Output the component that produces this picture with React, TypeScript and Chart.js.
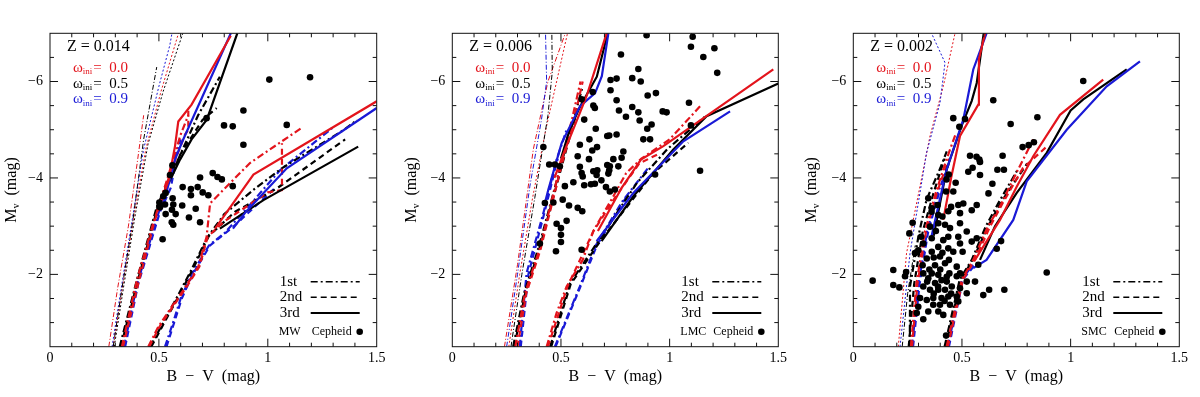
import React, { useEffect, useRef } from 'react';
import { Chart, registerables } from 'chart.js';

Chart.register(...registerables);

type Pt = [number, number];

const FONT = '"Liberation Serif", "DejaVu Serif", serif';
const X_TICKS = [0, 0.5, 1, 1.5];
const Y_TICKS = [-6, -4, -2];
const OMEGA_VALUES = ['0.0', '0.5', '0.9'];
const CROSSING_LABELS = ['1st', '2nd', '3rd'];
const Z_LABELS = ['Z = 0.014', 'Z = 0.006', 'Z = 0.002'];
const SAMPLE_LABELS = ['MW', 'LMC', 'SMC'];

// ---------------- MW (Z = 0.014) ----------------
const mwCepheids: Pt[] = [
  [1.007, -6.04], [1.194, -6.09], [0.888, -5.4], [0.719, -5.24], [0.799, -5.09], [0.839, -5.07],
  [1.087, -5.1], [0.888, -4.69], [0.689, -4.01], [0.747, -4.1], [0.769, -4.02], [0.789, -3.97],
  [0.839, -3.83], [0.609, -3.81], [0.647, -3.77], [0.678, -3.81], [0.647, -3.64], [0.701, -3.7],
  [0.727, -3.64], [0.562, -4.26], [0.551, -4.06], [0.531, -3.69], [0.502, -3.49], [0.505, -3.39],
  [0.528, -3.45], [0.563, -3.58], [0.566, -3.45], [0.531, -3.25], [0.56, -3.34], [0.577, -3.25],
  [0.607, -3.43], [0.669, -3.36], [0.638, -3.18], [0.689, -3.08], [0.559, -3.08], [0.566, -3.03],
  [0.517, -2.73], [0.52, -3.62],
];
const mwThinRedDD: Pt[] = [[0.27, -0.5], [0.31, -1.7], [0.36, -3.0], [0.4, -4.3], [0.43, -5.3]];
const mwThinBlackDD: Pt[] = [[0.29, -0.5], [0.33, -1.7], [0.38, -3.1], [0.43, -4.8], [0.49, -6.3]];
const mwThinBlueDot: Pt[] = [[0.285, -0.5], [0.33, -1.8], [0.38, -3.2], [0.43, -4.6], [0.5, -5.9], [0.55, -6.75], [0.56, -7.0]];
const mwThinRedDot: Pt[] = [[0.29, -0.5], [0.335, -1.8], [0.385, -3.2], [0.44, -4.6], [0.51, -5.8], [0.59, -7.0]];
const mwThinBlackDot: Pt[] = [[0.295, -0.5], [0.34, -1.8], [0.39, -3.2], [0.45, -4.7], [0.52, -5.8], [0.61, -7.0]];
const mwRed1L: Pt[] = [[0.33, -0.5], [0.4, -1.9], [0.47, -3.0], [0.54, -4.0], [0.6, -4.9], [0.635, -5.3]];
const mwRed2L: Pt[] = [[0.335, -0.5], [0.41, -1.9], [0.48, -3.1], [0.56, -4.2], [0.62, -4.9], [0.635, -5.0], [0.635, -5.4]];
const mwRed3L: Pt[] = [[0.5, -3.4], [0.545, -3.96], [0.574, -4.66], [0.589, -5.17], [0.65, -5.52], [0.83, -6.95]];
const mwBlack1L: Pt[] = [[0.32, -0.5], [0.4, -1.9], [0.49, -3.4], [0.59, -4.4], [0.68, -5.3], [0.78, -6.1]];
const mwBlack2L: Pt[] = [[0.325, -0.5], [0.405, -1.9], [0.495, -3.4], [0.6, -4.5], [0.7, -5.2], [0.765, -5.45]];
const mwBlack3L: Pt[] = [[0.49, -3.38], [0.597, -4.38], [0.65, -4.8], [0.72, -5.21], [0.86, -7.0]];
const mwBlue1L: Pt[] = [[0.34, -0.5], [0.4, -1.8], [0.5, -3.3], [0.56, -4.2], [0.6, -4.8]];
const mwBlue2L: Pt[] = [[0.345, -0.5], [0.405, -1.8], [0.505, -3.3], [0.555, -3.8], [0.575, -4.3]];
const mwBlue3L: Pt[] = [[0.52, -3.45], [0.574, -4.38], [0.605, -4.73], [0.83, -7.0]];
const mwRed1R: Pt[] = [[0.451, -0.5], [0.497, -0.91], [0.559, -1.33], [0.612, -1.67], [0.681, -2.16], [0.719, -2.78], [0.735, -3.47], [0.78, -3.68], [0.918, -4.31], [1.156, -5.04]];
const mwRed2R: Pt[] = [[0.456, -0.5], [0.502, -0.91], [0.564, -1.33], [0.617, -1.67], [0.686, -2.16], [0.724, -2.78], [0.8, -3.1], [1.0, -3.7], [1.065, -3.75], [1.065, -4.72]];
const mwRed3R: Pt[] = [[0.758, -2.95], [0.934, -4.07], [1.5, -5.59]];
const mwBlack1R: Pt[] = [[0.46, -0.5], [0.52, -1.0], [0.58, -1.5], [0.65, -2.1], [0.72, -2.75], [0.8, -3.25], [0.933, -3.75], [1.064, -4.2], [1.347, -4.99], [1.41, -5.2]];
const mwBlack2R: Pt[] = [[0.465, -0.5], [0.525, -1.0], [0.585, -1.5], [0.655, -2.1], [0.73, -2.8], [0.85, -3.3], [1.041, -3.78], [1.355, -4.8]];
const mwBlack3R: Pt[] = [[0.78, -2.95], [0.98, -3.54], [1.415, -4.65]];
const mwBlue1R: Pt[] = [[0.528, -0.5], [0.565, -1.0], [0.6, -1.5], [0.65, -2.0], [0.73, -2.6], [0.8, -2.85], [0.9, -3.35], [1.056, -4.16], [1.3, -5.05]];
const mwBlue2R: Pt[] = [[0.535, -0.5], [0.57, -1.0], [0.605, -1.5], [0.655, -2.0], [0.735, -2.6], [0.842, -2.99], [1.04, -3.82]];
const mwBlue3R: Pt[] = [[0.84, -2.95], [0.9, -3.3], [1.087, -4.2], [1.5, -5.45]];

// ---------------- LMC (Z = 0.006) ----------------
const lmcCepheids: Pt[] = [
  [0.894, -6.96], [1.106, -6.93], [1.098, -6.72], [1.206, -6.69], [0.776, -6.56], [1.155, -6.51],
  [1.219, -6.18], [0.856, -6.26], [0.828, -6.07], [0.867, -6.0], [0.756, -6.06], [0.728, -6.03],
  [0.728, -5.82], [0.937, -5.76], [0.899, -5.71], [0.646, -5.78], [0.595, -5.63], [0.756, -5.61],
  [0.649, -5.5], [0.656, -5.45], [0.767, -5.4], [0.828, -5.47], [0.799, -5.27], [0.856, -5.36],
  [0.862, -5.19], [0.968, -5.38], [0.986, -5.36], [1.089, -5.56], [1.098, -5.09], [0.607, -5.21],
  [0.66, -5.02], [0.631, -4.8], [0.587, -4.69], [0.722, -4.88], [0.756, -4.9], [0.713, -4.87],
  [0.897, -5.02], [0.917, -5.11], [0.879, -4.8], [0.91, -4.8], [0.666, -4.64], [0.644, -4.57],
  [0.577, -4.45], [0.629, -4.39], [0.787, -4.55], [0.779, -4.42], [0.741, -4.39], [0.713, -4.27],
  [0.725, -4.24], [0.667, -4.16], [0.587, -4.23], [0.595, -4.1], [0.6, -4.03], [0.649, -4.14],
  [0.664, -4.06], [0.686, -3.95], [0.722, -4.16], [0.718, -4.09], [0.764, -4.24], [0.557, -3.91],
  [0.607, -3.85], [0.638, -3.87], [0.656, -3.88], [0.707, -3.81], [0.725, -3.72], [0.748, -3.76],
  [0.933, -4.07], [1.14, -4.15], [0.518, -3.83], [0.508, -3.55], [0.537, -3.43], [0.577, -3.38],
  [0.598, -3.31], [0.526, -3.11], [0.48, -3.05], [0.5, -2.96], [0.5, -2.82], [0.5, -2.67],
  [0.477, -2.48], [0.595, -2.51], [0.465, -3.49], [0.426, -3.48], [0.446, -4.28], [0.495, -4.24],
  [0.419, -4.64], [0.472, -4.28], [0.403, -2.64],
];
const lmcThinBlue: Pt[] = [[0.25, -0.5], [0.3, -2.0], [0.357, -3.83], [0.41, -5.2], [0.434, -6.0], [0.429, -7.0]];
const lmcThinBlack: Pt[] = [[0.27, -0.5], [0.32, -2.0], [0.38, -3.6], [0.44, -5.3], [0.46, -6.2], [0.458, -7.0]];
const lmcThinRedDot: Pt[] = [[0.26, -0.5], [0.31, -2.0], [0.37, -3.6], [0.43, -5.0], [0.53, -7.0]];
const lmcThinRedDD: Pt[] = [[0.24, -0.5], [0.3, -2.2], [0.373, -4.6], [0.44, -6.0], [0.52, -7.0]];
const lmcRed1L: Pt[] = [[0.29, -0.5], [0.334, -1.6], [0.4, -2.5], [0.45, -3.4], [0.5, -4.3], [0.55, -5.2], [0.59, -6.0]];
const lmcRed2L: Pt[] = [[0.3, -0.5], [0.34, -1.6], [0.405, -2.5], [0.455, -3.4], [0.505, -4.3], [0.56, -5.2], [0.6, -6.0]];
const lmcRed3L: Pt[] = [[0.47, -4.0], [0.52, -4.6], [0.587, -5.35], [0.618, -5.7], [0.71, -7.0]];
const lmcBlack1L: Pt[] = [[0.28, -0.5], [0.33, -1.6], [0.4, -2.6], [0.46, -3.6], [0.52, -4.6], [0.57, -5.4], [0.6, -5.9]];
const lmcBlack2L: Pt[] = [[0.285, -0.5], [0.335, -1.6], [0.405, -2.6], [0.465, -3.6], [0.525, -4.6], [0.575, -5.4]];
const lmcBlack3L: Pt[] = [[0.5, -4.4], [0.54, -5.0], [0.59, -5.5], [0.665, -6.1], [0.715, -7.0]];
const lmcBlue1L: Pt[] = [[0.31, -0.5], [0.342, -2.03], [0.419, -3.27], [0.48, -4.38], [0.526, -5.0]];
const lmcBlue2L: Pt[] = [[0.315, -0.5], [0.35, -2.0], [0.425, -3.3], [0.485, -4.4]];
const lmcBlue3L: Pt[] = [[0.426, -3.48], [0.442, -3.76], [0.503, -4.72], [0.588, -5.49], [0.657, -5.76], [0.688, -6.11], [0.718, -7.0]];
const lmcRed1R: Pt[] = [[0.434, -0.5], [0.48, -1.2], [0.526, -1.75], [0.6, -2.3], [0.649, -2.9], [0.741, -3.62], [0.8, -4.1], [0.87, -4.4], [1.0, -4.8], [1.147, -5.52]];
const lmcRed2R: Pt[] = [[0.44, -0.5], [0.53, -1.75], [0.65, -2.9], [0.75, -3.6], [0.86, -4.3], [0.95, -4.5]];
const lmcRed3R: Pt[] = [[0.67, -2.9], [0.78, -3.8], [0.868, -4.38], [0.971, -4.66], [1.477, -6.25]];
const lmcBlack1R: Pt[] = [[0.45, -0.5], [0.54, -1.8], [0.68, -2.75], [0.85, -3.9], [0.99, -4.6], [1.17, -5.3]];
const lmcBlack2R: Pt[] = [[0.455, -0.5], [0.545, -1.8], [0.69, -2.75], [0.925, -4.1], [1.086, -4.73]];
const lmcBlack3R: Pt[] = [[0.687, -2.69], [0.833, -3.62], [1.017, -4.59], [1.17, -5.28], [1.5, -5.96]];
const lmcBlue1R: Pt[] = [[0.472, -0.5], [0.587, -1.75], [0.66, -2.6], [0.78, -3.5], [0.9, -4.2]];
const lmcBlue2R: Pt[] = [[0.475, -0.5], [0.59, -1.75], [0.665, -2.6], [0.8, -3.6]];
const lmcBlue3R: Pt[] = [[0.664, -2.69], [0.833, -3.69], [1.063, -4.76], [1.278, -5.38]];

// ---------------- SMC (Z = 0.002) ----------------
const smcCepheids: Pt[] = [
  [1.058, -6.01], [0.644, -5.61], [0.46, -5.24], [0.514, -5.22], [0.488, -5.06], [0.724, -5.12],
  [0.847, -5.26], [0.807, -4.68], [0.779, -4.64], [0.831, -4.74], [0.687, -4.46], [0.537, -4.46],
  [0.567, -4.44], [0.58, -4.38], [0.583, -4.33], [0.549, -4.21], [0.529, -4.13], [0.583, -4.06],
  [0.663, -4.17], [0.693, -4.17], [0.64, -3.88], [0.471, -3.9], [0.46, -3.72], [0.439, -4.07],
  [0.429, -3.97], [0.89, -2.04], [0.545, -3.33], [0.68, -2.69], [0.66, -2.53], [0.575, -2.2],
  [0.345, -3.58], [0.388, -3.44], [0.361, -3.37], [0.427, -3.72], [0.483, -3.44], [0.506, -3.47],
  [0.491, -3.27], [0.437, -3.31], [0.391, -3.23], [0.568, -3.44], [0.622, -3.68], [0.273, -3.07],
  [0.258, -2.85], [0.312, -2.78], [0.353, -2.99], [0.391, -3.06], [0.422, -3.03], [0.445, -2.96],
  [0.491, -3.06], [0.522, -2.89], [0.437, -2.78], [0.414, -2.71], [0.361, -2.75], [0.483, -2.78],
  [0.568, -2.75], [0.545, -2.68], [0.491, -2.64], [0.322, -2.64], [0.299, -2.5], [0.284, -2.44],
  [0.361, -2.47], [0.391, -2.57], [0.437, -2.54], [0.46, -2.47], [0.503, -2.47], [0.399, -2.37],
  [0.338, -2.33], [0.319, -2.19], [0.376, -2.19], [0.422, -2.23], [0.476, -2.16], [0.491, -2.02],
  [0.184, -2.09], [0.243, -2.05], [0.238, -1.96], [0.089, -1.87], [0.184, -1.78], [0.212, -1.73],
  [0.322, -2.02], [0.345, -1.92], [0.361, -2.02], [0.391, -1.99], [0.406, -1.88], [0.376, -1.82],
  [0.43, -1.85], [0.442, -2.02], [0.476, -1.96], [0.522, -1.85], [0.56, -1.85], [0.322, -1.75],
  [0.353, -1.68], [0.391, -1.68], [0.422, -1.68], [0.453, -1.75], [0.491, -1.71], [0.522, -1.61],
  [0.598, -1.57], [0.625, -1.68], [0.695, -1.68], [0.307, -1.51], [0.338, -1.47], [0.368, -1.51],
  [0.406, -1.51], [0.437, -1.54], [0.476, -1.54], [0.368, -1.37], [0.399, -1.37], [0.299, -1.33],
  [0.445, -1.37], [0.483, -1.44], [0.292, -1.2], [0.345, -1.23], [0.391, -1.23], [0.414, -1.16],
  [0.322, -1.07], [0.427, -0.73], [0.37, -2.35], [0.41, -2.45], [0.35, -2.1], [0.39, -1.75],
  [0.43, -1.95], [0.37, -1.6], [0.42, -1.45], [0.45, -1.6], [0.34, -1.85], [0.4, -2.1],
  [0.44, -2.3], [0.38, -2.9], [0.41, -3.2], [0.45, -3.4], [0.36, -3.3],
];
const smcThinBlue: Pt[] = [[0.215, -0.5], [0.261, -2.44], [0.337, -4.52], [0.399, -5.56], [0.422, -6.39], [0.36, -7.0]];
const smcThinRedDot: Pt[] = [[0.207, -0.5], [0.245, -2.44], [0.307, -3.83], [0.353, -4.87], [0.414, -5.9], [0.468, -7.0]];
const smcThinBlackDD: Pt[] = [[0.225, -0.5], [0.25, -1.6], [0.285, -2.6]];
const smcRed1L: Pt[] = [[0.265, -0.5], [0.29, -1.8], [0.33, -2.9], [0.38, -3.7], [0.43, -4.4], [0.47, -4.9]];
const smcRed2L: Pt[] = [[0.27, -0.5], [0.295, -1.8], [0.335, -2.9], [0.385, -3.7], [0.44, -4.4]];
const smcRed3L: Pt[] = [[0.414, -3.13], [0.45, -4.0], [0.491, -4.87], [0.575, -5.52], [0.578, -6.46], [0.606, -7.0]];
const smcBlack1L: Pt[] = [[0.26, -0.5], [0.261, -1.75], [0.3, -2.8], [0.337, -3.55], [0.4, -4.2], [0.43, -4.55]];
const smcBlack2L: Pt[] = [[0.255, -0.5], [0.28, -1.8], [0.32, -2.9], [0.37, -3.7], [0.42, -4.4]];
const smcBlack3L: Pt[] = [[0.37, -2.8], [0.429, -4.17], [0.5, -5.1], [0.545, -5.6], [0.568, -5.97], [0.6, -7.0]];
const smcBlue1L: Pt[] = [[0.27, -0.5], [0.3, -1.8], [0.34, -2.9], [0.39, -3.7], [0.44, -4.3]];
const smcBlue2L: Pt[] = [[0.275, -0.5], [0.305, -1.8], [0.345, -2.9], [0.395, -3.7]];
const smcBlue3L: Pt[] = [[0.36, -2.79], [0.429, -4.17], [0.506, -5.21], [0.552, -6.25], [0.613, -7.0]];
const smcRed1R: Pt[] = [[0.429, -0.5], [0.5, -1.9], [0.552, -2.3], [0.62, -3.0], [0.675, -3.41], [0.75, -4.1], [0.828, -4.8]];
const smcRed2R: Pt[] = [[0.435, -0.5], [0.505, -1.9], [0.56, -2.3], [0.63, -3.0], [0.69, -3.5], [0.78, -4.2], [0.89, -4.65]];
const smcRed3R: Pt[] = [[0.56, -2.3], [0.675, -3.13], [0.75, -3.8], [0.828, -4.45], [0.951, -5.31], [1.15, -6.04]];
const smcBlack1R: Pt[] = [[0.42, -0.5], [0.49, -1.9], [0.545, -2.3], [0.61, -3.0], [0.67, -3.5], [0.76, -4.2]];
const smcBlack2R: Pt[] = [[0.425, -0.5], [0.495, -1.9], [0.55, -2.3], [0.62, -3.0], [0.68, -3.5], [0.8, -4.3]];
const smcBlack3R: Pt[] = [[0.583, -2.3], [0.652, -3.0], [0.752, -3.69], [0.89, -4.52], [1.0, -5.4], [1.058, -5.63], [1.258, -6.25]];
const smcBlue1R: Pt[] = [[0.435, -0.5], [0.5, -1.9], [0.55, -2.2]];
const smcBlue2R: Pt[] = [[0.44, -0.5], [0.505, -1.9], [0.56, -2.2]];
const smcBlue3R: Pt[] = [[0.552, -2.13], [0.613, -2.3], [0.736, -3.13], [0.798, -3.93], [0.982, -5.0], [1.166, -5.9], [1.319, -6.42]];

// ---------------- styles ----------------
const RED = '#e3141c';
const BLACK = '#000000';
const BLUE = '#1a1ad6';
const DASHDOT = [7, 3, 2, 3];
const DASHED = [6, 4];
const SOLID: number[] = [];
const DOTTED = [2, 2];
const THIN_DASHDOT = [5, 2, 1, 2];
const THICK = 2.2;
const THIN = 1;

type LineSpec = { data: Pt[]; color: string; dash: number[]; width: number };
const L = (data: Pt[], color: string, dash: number[], width: number): LineSpec => ({ data, color, dash, width });

type PanelCfg = {
  offset: number;
  yAxisW: number;
  padRight: number;
  z: string;
  sample: string;
  cepheids: Pt[];
  lines: LineSpec[];
};

const PANELS: PanelCfg[] = [
  {
    offset: 0, yAxisW: 50, padRight: 23.3, z: Z_LABELS[0], sample: SAMPLE_LABELS[0], cepheids: mwCepheids,
    lines: [
      L(mwRed3L, RED, SOLID, THICK), L(mwBlue3L, BLUE, SOLID, THICK), L(mwBlack3L, BLACK, SOLID, THICK),
      L(mwRed3R, RED, SOLID, THICK), L(mwBlue3R, BLUE, SOLID, THICK), L(mwBlack3R, BLACK, SOLID, THICK),
      L(mwRed1L, RED, DASHDOT, THICK), L(mwRed2L, RED, DASHED, THICK), L(mwBlack1L, BLACK, DASHDOT, THICK),
      L(mwBlack2L, BLACK, DASHED, THICK), L(mwBlue1L, BLUE, DASHDOT, THICK), L(mwBlue2L, BLUE, DASHED, THICK),
      L(mwRed1R, RED, DASHDOT, THICK), L(mwRed2R, RED, DASHED, THICK), L(mwBlack1R, BLACK, DASHDOT, THICK),
      L(mwBlack2R, BLACK, DASHED, THICK), L(mwBlue1R, BLUE, DASHDOT, THICK), L(mwBlue2R, BLUE, DASHED, THICK),
      L(mwThinRedDD, RED, THIN_DASHDOT, THIN), L(mwThinBlackDD, BLACK, THIN_DASHDOT, THIN),
      L(mwThinBlueDot, BLUE, DOTTED, THIN), L(mwThinRedDot, RED, DOTTED, THIN), L(mwThinBlackDot, BLACK, DOTTED, THIN),
    ],
  },
  {
    offset: 400, yAxisW: 52.3, padRight: 21.7, z: Z_LABELS[1], sample: SAMPLE_LABELS[1], cepheids: lmcCepheids,
    lines: [
      L(lmcRed3L, RED, SOLID, THICK), L(lmcBlue3L, BLUE, SOLID, THICK), L(lmcBlack3L, BLACK, SOLID, THICK),
      L(lmcRed3R, RED, SOLID, THICK), L(lmcBlue3R, BLUE, SOLID, THICK), L(lmcBlack3R, BLACK, SOLID, THICK),
      L(lmcRed1L, RED, DASHDOT, THICK), L(lmcRed2L, RED, DASHED, THICK), L(lmcBlack1L, BLACK, DASHDOT, THICK),
      L(lmcBlack2L, BLACK, DASHED, THICK), L(lmcBlue1L, BLUE, DASHDOT, THICK), L(lmcBlue2L, BLUE, DASHED, THICK),
      L(lmcRed1R, RED, DASHDOT, THICK), L(lmcRed2R, RED, DASHED, THICK), L(lmcBlack1R, BLACK, DASHDOT, THICK),
      L(lmcBlack2R, BLACK, DASHED, THICK), L(lmcBlue1R, BLUE, DASHDOT, THICK), L(lmcBlue2R, BLUE, DASHED, THICK),
      L(lmcThinBlue, BLUE, THIN_DASHDOT, THIN), L(lmcThinBlack, BLACK, THIN_DASHDOT, THIN),
      L(lmcThinRedDot, RED, DOTTED, THIN), L(lmcThinRedDD, RED, THIN_DASHDOT, THIN),
    ],
  },
  {
    offset: 800, yAxisW: 53.3, padRight: 20.7, z: Z_LABELS[2], sample: SAMPLE_LABELS[2], cepheids: smcCepheids,
    lines: [
      L(smcRed3L, RED, SOLID, THICK), L(smcBlue3L, BLUE, SOLID, THICK), L(smcBlack3L, BLACK, SOLID, THICK),
      L(smcRed3R, RED, SOLID, THICK), L(smcBlue3R, BLUE, SOLID, THICK), L(smcBlack3R, BLACK, SOLID, THICK),
      L(smcRed1L, RED, DASHDOT, THICK), L(smcRed2L, RED, DASHED, THICK), L(smcBlack1L, BLACK, DASHDOT, THICK),
      L(smcBlack2L, BLACK, DASHED, THICK), L(smcBlue1L, BLUE, DASHDOT, THICK), L(smcBlue2L, BLUE, DASHED, THICK),
      L(smcRed1R, RED, DASHDOT, THICK), L(smcRed2R, RED, DASHED, THICK), L(smcBlack1R, BLACK, DASHDOT, THICK),
      L(smcBlack2R, BLACK, DASHED, THICK), L(smcBlue1R, BLUE, DASHDOT, THICK), L(smcBlue2R, BLUE, DASHED, THICK),
      L(smcThinBlue, BLUE, DOTTED, THIN), L(smcThinRedDot, RED, DOTTED, THIN), L(smcThinBlackDD, BLACK, THIN_DASHDOT, THIN),
    ],
  },
];

function decorPlugin(cfg: PanelCfg) {
  return {
    id: 'decor',
    afterDraw(chart: any) {
      const { ctx, chartArea: a } = chart;
      const xs = chart.scales.x;
      const ys = chart.scales.y;
      ctx.save();
      ctx.setLineDash([]);
      ctx.strokeStyle = '#111';
      ctx.lineWidth = 1;
      ctx.strokeRect(a.left, a.top, a.right - a.left, a.bottom - a.top);
      ctx.beginPath();
      for (let i = 1; i < 15; i++) {
        const px = xs.getPixelForValue(i / 10);
        const len = i % 5 === 0 ? 8 : 4;
        ctx.moveTo(px, a.bottom); ctx.lineTo(px, a.bottom - len);
        ctx.moveTo(px, a.top); ctx.lineTo(px, a.top + len);
      }
      for (let k = 1; k < 13; k++) {
        const v = -7 + k * 0.5;
        const py = ys.getPixelForValue(v);
        const len = Y_TICKS.includes(v) ? 8 : 4;
        ctx.moveTo(a.left, py); ctx.lineTo(a.left + len, py);
        ctx.moveTo(a.right, py); ctx.lineTo(a.right - len, py);
      }
      ctx.stroke();

      // y axis title with subscript
      ctx.save();
      ctx.translate(12, (a.top + a.bottom) / 2);
      ctx.rotate(-Math.PI / 2);
      ctx.fillStyle = '#000';
      ctx.textBaseline = 'middle';
      ctx.textAlign = 'left';
      const big = `16px ${FONT}`;
      const small = `10px ${FONT}`;
      ctx.font = big; const wM = ctx.measureText('M').width;
      ctx.font = small; const wV = ctx.measureText('v').width;
      ctx.font = big; const wR = ctx.measureText('  (mag)').width;
      let tx = -(wM + wV + wR) / 2;
      ctx.font = big; ctx.fillText('M', tx, 0); tx += wM;
      ctx.font = small; ctx.fillText('v', tx, 4); tx += wV;
      ctx.font = big; ctx.fillText('  (mag)', tx, 0);
      ctx.restore();

      // Z label and omega legend
      ctx.textBaseline = 'middle';
      ctx.textAlign = 'left';
      ctx.fillStyle = '#000';
      ctx.font = `16px ${FONT}`;
      ctx.fillText(cfg.z, a.left + 17, a.top + 13);
      const omegaColors = [RED, BLACK, BLUE];
      OMEGA_VALUES.forEach((val, i) => {
        const y = a.top + 34.5 + i * 15.8;
        let x = a.left + 23;
        ctx.fillStyle = omegaColors[i];
        ctx.font = `15px ${FONT}`;
        ctx.fillText('ω', x, y); x += ctx.measureText('ω').width;
        ctx.font = `9px ${FONT}`;
        ctx.fillText('ini', x, y + 4); x += ctx.measureText('ini').width;
        ctx.font = `15px ${FONT}`;
        ctx.fillText('=  ' + val, x + 1, y);
      });

      // crossing legend
      const dashes = [DASHDOT, DASHED, SOLID];
      CROSSING_LABELS.forEach((lab, i) => {
        const y = a.bottom - 65 + i * 15.6;
        ctx.fillStyle = '#000';
        ctx.font = `15px ${FONT}`;
        ctx.setLineDash([]);
        ctx.fillText(lab, a.right - 97, y);
        ctx.strokeStyle = '#000';
        ctx.lineWidth = i === 2 ? 2 : 1.5;
        ctx.setLineDash(dashes[i]);
        ctx.beginPath();
        ctx.moveTo(a.right - 66, y);
        ctx.lineTo(a.right - 17, y);
        ctx.stroke();
      });
      ctx.setLineDash([]);
      const cy = a.bottom - 15;
      ctx.fillStyle = '#000';
      ctx.font = `12px ${FONT}`;
      ctx.textAlign = 'left';
      ctx.fillText(cfg.sample, a.right - 98, cy);
      ctx.textAlign = 'right';
      ctx.fillText('Cepheid', a.right - 25, cy);
      ctx.beginPath();
      ctx.arc(a.right - 17, cy, 3.3, 0, Math.PI * 2);
      ctx.fill();
      ctx.restore();
    },
  };
}

function Panel({ cfg }: { cfg: PanelCfg }) {
  const ref = useRef<HTMLCanvasElement>(null);
  useEffect(() => {
    const canvas = ref.current;
    if (!canvas) return;
    const datasets: any[] = [
      {
        label: 'Cepheids',
        data: cfg.cepheids.map(([x, y]) => ({ x, y })),
        showLine: false,
        pointRadius: 3.3,
        pointBackgroundColor: '#000',
        pointBorderWidth: 0,
        order: 0,
      },
      ...cfg.lines.map((l, i) => ({
        label: 'line' + i,
        data: l.data.map(([x, y]) => ({ x, y })),
        showLine: true,
        borderColor: l.color,
        borderWidth: l.width,
        borderDash: l.dash,
        pointRadius: 0,
        fill: false,
        tension: 0,
        order: 1 + i,
      })),
    ];
    const chart = new Chart(canvas, {
      type: 'scatter',
      data: { datasets },
      options: {
        animation: false,
        responsive: false,
        events: [],
        layout: { padding: { left: 0, right: cfg.padRight, top: 33.3, bottom: 0 } },
        plugins: { legend: { display: false }, tooltip: { enabled: false } },
        scales: {
          x: {
            type: 'linear',
            min: 0,
            max: 1.5,
            afterBuildTicks: (s: any) => { s.ticks = X_TICKS.map((v) => ({ value: v })); },
            afterFit: (s: any) => { s.height = 50.3; },
            grid: { display: false, drawTicks: false },
            border: { display: false },
            ticks: {
              padding: 3,
              color: '#000',
              maxRotation: 0,
              autoSkip: false,
              font: { family: FONT, size: 14 },
              callback: (v: any) => String(v),
            },
            title: {
              display: true,
              text: 'B  −  V  (mag)',
              color: '#000',
              font: { family: FONT, size: 16 },
              padding: { top: 0, bottom: 11 },
            },
          },
          y: {
            type: 'linear',
            reverse: true,
            min: -7,
            max: -0.5,
            afterBuildTicks: (s: any) => { s.ticks = Y_TICKS.map((v) => ({ value: v })); },
            afterFit: (s: any) => { s.width = cfg.yAxisW; },
            grid: { display: false, drawTicks: false },
            border: { display: false },
            ticks: {
              padding: 7,
              color: '#000',
              autoSkip: false,
              font: { family: FONT, size: 14 },
              callback: (v: any) => '−' + Math.abs(Number(v)),
            },
          },
        },
      } as any,
      plugins: [decorPlugin(cfg)],
    });
    return () => chart.destroy();
  }, [cfg]);
  return (
    <canvas
      ref={ref}
      width={400}
      height={397}
      style={{ position: 'absolute', left: cfg.offset, top: 0, width: 400, height: 397, display: 'block' }}
    />
  );
}

export default function App() {
  return (
    <div style={{ position: 'absolute', left: 0, top: 0, width: 1200, height: 397, background: '#fff' }}>
      {PANELS.map((p, i) => (
        <Panel key={i} cfg={p} />
      ))}
    </div>
  );
}
